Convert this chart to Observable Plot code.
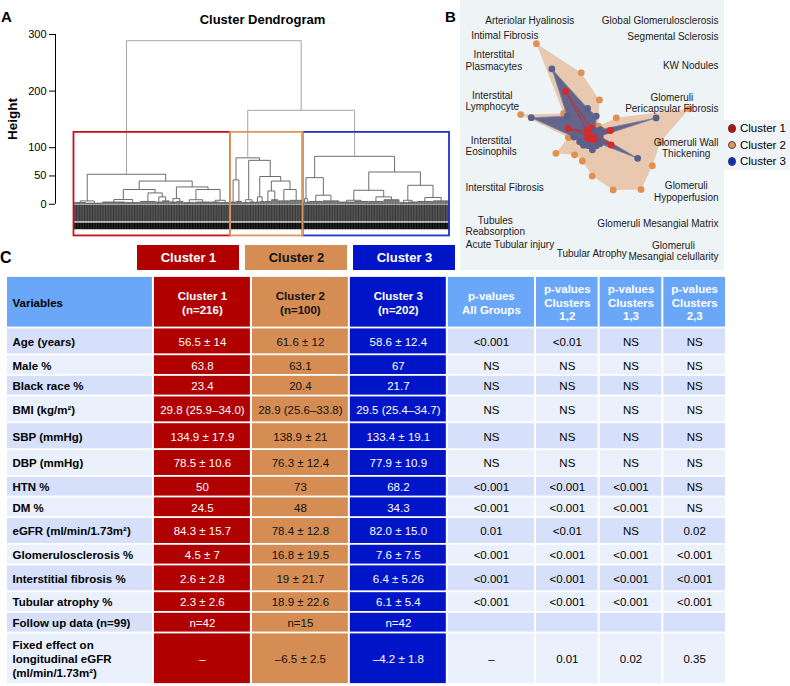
<!DOCTYPE html>
<html><head><meta charset="utf-8">
<script src="https://cdn.jsdelivr.net/npm/d3@7"></script>
<script src="https://cdn.jsdelivr.net/npm/@observablehq/plot@0.6"></script>
<style>
body{margin:0;background:#fff;font-family:"Liberation Sans",Arial,Helvetica,sans-serif;color:#000;}
#fig{position:relative;width:790px;height:686px;overflow:hidden;}
#fig > div{position:absolute;}
</style></head><body><div id="fig"></div>
<script>
// ================= DATA =================
// Panel A – hierarchical clustering (merge heights)
const clusterNames = ["Cluster 1", "Cluster 2", "Cluster 3"];
const clusterSizes = [216, 100, 202];
const heightTicks = [0, 50, 100, 200, 300];
const cutHeight = 127;
const M = (h, a, b) => ({h, kids: [a, b]});   // merge at height h
const L = (n, h) => ({h, n});                  // bundle of n leaves joined near height h
const cluster1Tree = M(53,
  M(5.9, L(17, 3), L(22, 2)),
  M(41,
    M(26, M(8.3, L(32, 4), L(20, 3)), M(20, L(22, 5), M(13, L(8, 4), L(11, 6)))),
    M(30.6, M(10, L(9, 4), L(10, 5)), M(26, M(8, L(16, 3), L(21, 4)), M(7, L(13, 4), L(15, 3))))));
const cluster2Tree = M(82,
  M(43, L(7, 4), L(9, 5)),
  M(77.6, M(8, L(9, 3), L(9, 4)),
    M(49, M(13, L(6, 4), L(7, 5)), M(41, M(23.5, L(9, 5), L(10, 8)), M(26, L(15, 6), L(19, 7))))));
const cluster3Tree = M(84.7,
  M(47, M(10, L(4, 3), L(4, 4)), M(16, L(19, 5), L(23, 6))),
  M(57, M(24.7, M(7, L(20, 4), L(20, 5)), M(13, L(21, 5), L(22, 8))),
    M(33.5, M(7, L(11, 3), L(13, 4)), M(12, L(22, 5), L(23, 6)))));
const upperMerges = [166, 289]; // clusters 2+3, then with cluster 1

// Panel B – radar of histologic lesions (clockwise)
const lesions = ["Global Glomerulosclerosis", "Segmental Sclerosis", "KW Nodules",
  "Glomeruli\nPericapsular Fibrosis", "Glomeruli Wall\nThickening", "Glomeruli\nHypoperfusion",
  "Glomeruli Mesangial Matrix", "Glomeruli\nMesangial celullarity", "Tubular Atrophy",
  "Acute Tubular injury", "Tubules\nReabsorption", "Interstital Fibrosis", "Interstital\nEosinophils",
  "Interstital\nLymphocyte", "Interstital\nPlasmacytes", "Intimal Fibrosis", "Arteriolar Hyalinosis"];
const radarCluster1 = [0.05, 0.04, 0.05, 0.17, 0.06, 0.19, 0.05, 0.04, 0.03, 0.03, 0.04, 0.05, 0.04, 0.23, 0.06, 0.47, 0.07];
const radarCluster2 = [0.33, 0.10, 0.27, 0.91, 0.62, 0.61, 0.66, 0.53, 0.37, 0.25, 0.24, 0.37, 0.22, 0.68, 0.33, 0.98, 0.58];
const radarCluster3 = [0.18, 0.05, 0.09, 0.60, 0.07, 0.46, 0.10, 0.10, 0.13, 0.10, 0.12, 0.13, 0.17, 0.58, 0.29, 0.71, 0.25];

// Panel C – table
const tableHeaders = ["Variables", "Cluster 1\n(n=216)", "Cluster 2\n(n=100)", "Cluster 3\n(n=202)",
  "p-values\nAll Groups", "p-values\nClusters\n1,2", "p-values\nClusters\n1,3", "p-values\nClusters\n2,3"];
const variables = ["Age (years)", "Male %", "Black race %", "BMI (kg/m²)", "SBP (mmHg)", "DBP (mmHg)",
  "HTN %", "DM %", "eGFR (ml/min/1.73m²)", "Glomerulosclerosis %", "Interstitial fibrosis %",
  "Tubular atrophy %", "Follow up data (n=99)", "Fixed effect on\nlongitudinal eGFR\n(ml/min/1.73m²)"];
const cluster1Values = ["56.5 ± 14", "63.8", "23.4", "29.8 (25.9–34.0)", "134.9 ± 17.9", "78.5 ± 10.6",
  "50", "24.5", "84.3 ± 15.7", "4.5 ± 7", "2.6 ± 2.8", "2.3 ± 2.6", "n=42", "–"];
const cluster2Values = ["61.6 ± 12", "63.1", "20.4", "28.9 (25.6–33.8)", "138.9 ± 21", "76.3 ± 12.4",
  "73", "48", "78.4 ± 12.8", "16.8 ± 19.5", "19 ± 21.7", "18.9 ± 22.6", "n=15", "–6.5 ± 2.5"];
const cluster3Values = ["58.6 ± 12.4", "67", "21.7", "29.5 (25.4–34.7)", "133.4 ± 19.1", "77.9 ± 10.9",
  "68.2", "34.3", "82.0 ± 15.0", "7.6 ± 7.5", "6.4 ± 5.26", "6.1 ± 5.4", "n=42", "–4.2 ± 1.8"];
const pAllGroups = ["<0.001", "NS", "NS", "NS", "NS", "NS", "<0.001", "<0.001", "0.01", "<0.001", "<0.001", "<0.001", "", "–"];
const pClusters12 = ["<0.01", "NS", "NS", "NS", "NS", "NS", "<0.001", "<0.001", "<0.01", "<0.001", "<0.001", "<0.001", "", "0.01"];
const pClusters13 = ["NS", "NS", "NS", "NS", "NS", "NS", "<0.001", "<0.001", "NS", "<0.001", "<0.001", "<0.001", "", "0.02"];
const pClusters23 = ["NS", "NS", "NS", "NS", "NS", "NS", "NS", "NS", "0.02", "<0.001", "<0.001", "<0.001", "", "0.35"];

// ================= STYLE / LAYOUT =================
const FONT = '"Liberation Sans", Arial, Helvetica, sans-serif';
const clusterFill = ["#b00000", "#d58d54", "#0014c8"];
const clusterInk = ["#ffffff", "#111111", "#ffffff"];
const boxStroke = ["#c4121c", "#e0965a", "#1e34c8"];
const headerBlue = "#6ba7f8", rowDark = "#d6e0fa", rowLight = "#eaf0fc";
const colWeight = [1.5, 1, 1, 1, 0.9, 0.65, 0.65, 0.65];
const rowWeight = [2.5, 1.3, 1, 1, 1.3, 1.3, 1.3, 1, 1, 1.3, 1, 1.3, 1, 1, 2.5];

const fig = document.getElementById("fig");
function place(node, left, top) {
  const d = document.createElement("div");
  d.style.left = left + "px"; d.style.top = top + "px";
  d.appendChild(node); fig.appendChild(d); return d;
}
function addText(txt, x, baseline, size, weight = "normal", anchor = "start") {
  const d = document.createElement("div");
  d.textContent = txt;
  Object.assign(d.style, {left: x + "px", top: (baseline - 0.8465 * size) + "px", fontSize: size + "px",
    fontWeight: weight, lineHeight: "1", whiteSpace: "nowrap"});
  if (anchor === "middle") d.style.transform = "translateX(-50%)";
  fig.appendChild(d); return d;
}

// ================= PANEL A =================
const dendro = M(upperMerges[1], cluster1Tree, M(upperMerges[0], cluster2Tree, cluster3Tree));
const segs = [], leafX = [];
let cursor = 0;
function lay(node) {
  if (node.n !== undefined) {
    const a = cursor + 0.5, b = cursor + node.n - 0.5;
    for (let i = 0; i < node.n; i++) {
      const x = cursor + i + 0.5;
      leafX.push(x);
      segs.push({x1: x, x2: x, y1: node.h, y2: 0, tone: "leaf"});
    }
    cursor += node.n;
    segs.push({x1: a, x2: b, y1: node.h, y2: node.h, tone: "leaf"});
    return {x: (a + b) / 2, h: node.h};
  }
  const [p, q] = node.kids.map(lay);
  const tone = node.h > cutHeight ? "upper" : "inner";
  segs.push({x1: p.x, x2: q.x, y1: node.h, y2: node.h, tone});
  segs.push({x1: p.x, x2: p.x, y1: node.h, y2: p.h, tone});
  segs.push({x1: q.x, x2: q.x, y1: node.h, y2: q.h, tone});
  return {x: (p.x + q.x) / 2, h: node.h};
}
lay(dendro);
const nLeaves = d3.sum(clusterSizes);
let acc = 0;
const boxes = clusterSizes.map((n, i) => { const b = {x1: acc, x2: acc + n, i}; acc += n; return b; });
const yMin = -57;
const linkOpts = {x1: "x1", y1: "y1", x2: "x2", y2: "y2"};

const plotA = Plot.plot({
  width: 455, height: 240, marginTop: 34, marginBottom: 4, marginLeft: 55, marginRight: 6,
  x: {domain: [0, nLeaves], insetLeft: 18.5, axis: null},
  y: {domain: [yMin, 300]},
  style: {fontFamily: FONT, fontSize: "11px", background: "transparent", color: "#000"},
  marks: [
    Plot.axisY({ticks: heightTicks, tickSize: 6, tickPadding: 3, label: null, fontSize: 11}),
    Plot.ruleX([0], {y1: 0, y2: 300, dx: -18.5, stroke: "#000"}),
    Plot.ruleX(leafX, {y1: -1.8, y2: -31, stroke: "#343434", strokeWidth: 0.95}),
    Plot.ruleX(leafX, {y1: -33.5, y2: -45, stroke: "#050505", strokeWidth: 1}),
    Plot.link(segs.filter(d => d.tone === "leaf"), {...linkOpts, stroke: "#4a4a4a", strokeWidth: 0.7}),
    Plot.link(segs.filter(d => d.tone === "inner"), {...linkOpts, stroke: "#6c6c6c", strokeWidth: 1}),
    Plot.link(segs.filter(d => d.tone === "upper"), {...linkOpts, stroke: "#a3a3a3", strokeWidth: 1}),
    ...[0, 2, 1].map(i => Plot.rect([boxes[i]], {x1: "x1", x2: "x2", y1: yMin + 1, y2: cutHeight,
      fill: "none", stroke: boxStroke[i], strokeWidth: 1.8}))
  ]
});
place(plotA, 0, 0);
addText("Cluster Dendrogram", 262.5, 24.5, 13, "bold", "middle");
addText("A", 1, 21.7, 15, "bold");
const hl = document.createElement("div");
hl.textContent = "Height";
Object.assign(hl.style, {left: "12.5px", top: "119px", fontSize: "13.5px", fontWeight: "bold", lineHeight: "1",
  transform: "translate(-50%,-50%) rotate(-90deg)", whiteSpace: "nowrap"});
fig.appendChild(hl);

// ================= PANEL B =================
const angleOffset = 11, step = 360 / lesions.length;
const polar = (v, k) => {
  const a = (angleOffset + step * k) * Math.PI / 180;
  return {x: v * Math.sin(a), y: v * Math.cos(a)};
};
const pts1 = radarCluster1.map(polar), pts2 = radarCluster2.map(polar), pts3 = radarCluster3.map(polar);
const LABEL_SIZE = 10, PX = 110, XD = 1.2, YD = 1.23;
const ctx = document.createElement("canvas").getContext("2d");
ctx.font = `${LABEL_SIZE}px "Liberation Sans"`;
const labelRx = 104 / PX, labelRy = 112 / PX;
const labelData = lesions.map((name, k) => {
  const lines = name.split("\n");
  const w = Math.max(...lines.map(s => ctx.measureText(s).width)) / PX;
  const h = lines.length * LABEL_SIZE * 1.15 / PX;
  const a = (angleOffset + step * k) * Math.PI / 180, s = Math.sin(a), c = Math.cos(a);
  let x = labelRx * s;
  const y = labelRy * c + c * h / 2;
  if (s > 0.05) x += w / 2; else if (s < -0.05) x -= w / 2;
  x = Math.max(-XD + 5 / PX + w / 2, Math.min(XD - 6 / PX - w / 2, x));
  return {name, x, y};
});
const P = {x: "x", y: "y"};
const plotB = Plot.plot({
  width: 264, height: 270, margin: 0,
  x: {domain: [-XD, XD], axis: null}, y: {domain: [-YD, YD], axis: null},
  style: {fontFamily: FONT, background: "#eef3f5"},
  marks: [
    Plot.line(pts2, {...P, curve: "linear-closed", fill: "#e0965a", fillOpacity: 0.45, stroke: "none"}),
    Plot.dot(pts2, {...P, r: 3.4, fill: "#e1914f"}),
    Plot.line(pts3, {...P, curve: "linear-closed", fill: "#4b5385", fillOpacity: 0.85, stroke: "#7d84a6", strokeWidth: 0.8}),
    Plot.line(pts1, {...P, curve: "linear-closed", fill: "#d42020", fillOpacity: 0.12, stroke: "#cc2a2a", strokeWidth: 0.8}),
    Plot.dot(pts1, {...P, r: 3.4, fill: "#d62a2a"}),
    Plot.dot(pts3, {...P, r: 3.4, fill: "#59608c"}),
    Plot.text(labelData, {...P, text: "name", fontSize: LABEL_SIZE, lineHeight: 1.15,
      textAnchor: "middle", fill: "#1a1a1a"})
  ]
});
place(plotB, 460, 0);
addText("B", 445, 21.7, 15, "bold");
// legend
const leg = document.createElement("div");
Object.assign(leg.style, {left: "724px", top: "120px", width: "66px", background: "#f1f4f6"});
clusterNames.forEach((name, i) => {
  const row = document.createElement("div");
  Object.assign(row.style, {height: "16.5px", display: "flex", alignItems: "center", fontSize: "11.5px", whiteSpace: "nowrap"});
  const dot = document.createElement("span");
  Object.assign(dot.style, {display: "inline-block", width: "6.5px", height: "6.5px", borderRadius: "50%",
    background: ["#c00d0d", "#e0955a", "#1028c8"][i], border: "0.6px solid #444", margin: "0 4px 0 3.5px"});
  row.appendChild(dot);
  row.appendChild(document.createTextNode(name));
  leg.appendChild(row);
});
fig.appendChild(leg);

// ================= PANEL C =================
addText("C", 0, 264, 16, "bold");
const plotLabels = Plot.plot({
  width: 320, height: 25, margin: 0,
  x: {domain: clusterNames, paddingInner: 0.06, paddingOuter: 0, axis: null},
  color: {type: "identity"},
  style: {fontFamily: FONT, background: "transparent"},
  marks: [
    Plot.cell(clusterNames, {x: d => d, fill: (d, i) => clusterFill[i]}),
    Plot.text(clusterNames, {x: d => d, text: d => d, fill: (d, i) => clusterInk[i], fontWeight: "bold", fontSize: 13})
  ]
});
place(plotLabels, 136, 245);

const columns = [variables, cluster1Values, cluster2Values, cluster3Values, pAllGroups, pClusters12, pClusters13, pClusters23];
const colEdge = Array.from(d3.cumsum([0, ...colWeight]));
const rowEdge = Array.from(d3.cumsum([0, ...rowWeight]));
const cells = [];
for (let r = 0; r < rowWeight.length; r++) {
  for (let c = 0; c < columns.length; c++) {
    const text = r === 0 ? tableHeaders[c] : columns[c][r - 1];
    let fill, ink, bold;
    if (c >= 1 && c <= 3) { fill = clusterFill[c - 1]; ink = clusterInk[c - 1]; bold = r === 0; }
    else if (r === 0) { fill = headerBlue; ink = c === 0 ? "#000" : "#fff"; bold = true; }
    else { fill = r % 2 === 1 ? rowDark : rowLight; ink = "#000"; bold = c === 0; }
    cells.push({x1: colEdge[c], x2: colEdge[c + 1], y1: rowEdge[r], y2: rowEdge[r + 1],
      xm: (colEdge[c] + colEdge[c + 1]) / 2, ym: (rowEdge[r] + rowEdge[r + 1]) / 2,
      text, fill, ink, bold, left: c === 0});
  }
}
const tOpts = {y: "ym", text: "text", fill: "ink", fontSize: 11.5, lineHeight: 1.2};
const plotC = Plot.plot({
  width: 790, height: 416, marginLeft: 6, marginRight: 64, marginTop: 6, marginBottom: 2,
  x: {domain: [0, colEdge[colEdge.length - 1]], axis: null},
  y: {domain: [0, rowEdge[rowEdge.length - 1]], reverse: true, axis: null},
  color: {type: "identity"},
  style: {fontFamily: FONT, background: "transparent"},
  marks: [
    Plot.rect(cells, {x1: "x1", x2: "x2", y1: "y1", y2: "y2", fill: "fill",
      insetLeft: 1, insetRight: 1, insetTop: 0.9, insetBottom: 0.9}),
    Plot.text(cells.filter(d => d.left), {...tOpts, x: "x1", dx: 6, textAnchor: "start", fontWeight: "bold"}),
    Plot.text(cells.filter(d => !d.left && d.bold), {...tOpts, x: "xm", textAnchor: "middle", fontWeight: "bold"}),
    Plot.text(cells.filter(d => !d.left && !d.bold), {...tOpts, x: "xm", textAnchor: "middle"})
  ]
});
place(plotC, 0, 270);
</script></body></html>
